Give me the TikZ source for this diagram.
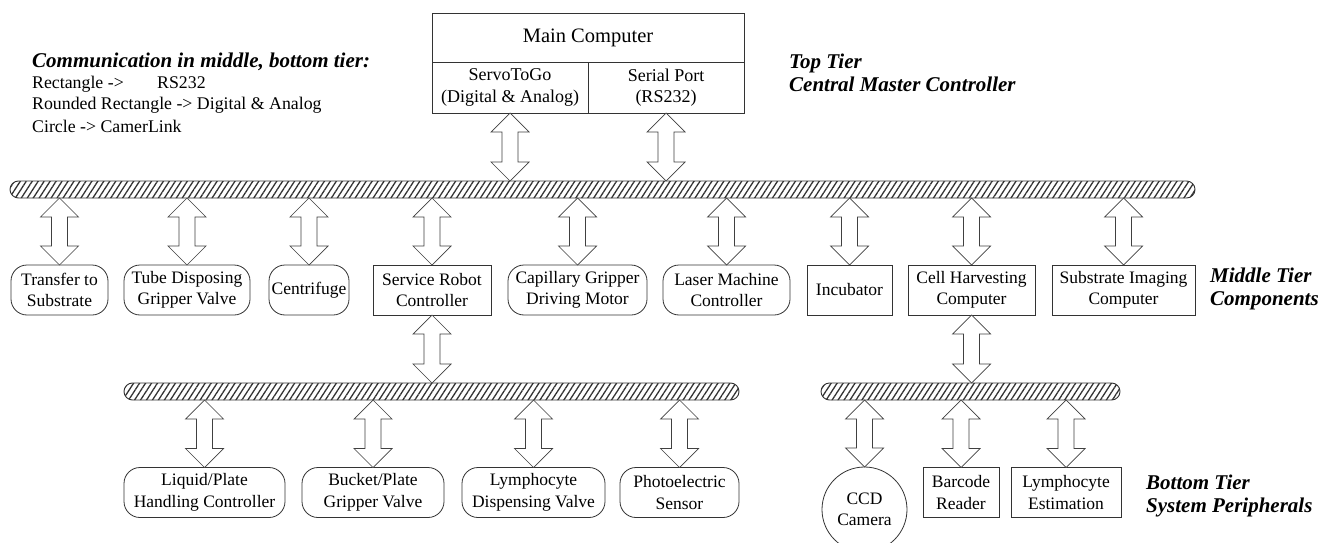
\documentclass[tikz,border=0pt]{standalone}
\usepackage{fontspec}
\setmainfont{Liberation Serif}
\usetikzlibrary{calc,patterns.meta}
\tikzset{
  base/.style={draw=black!80, line width=0.8pt, inner sep=0pt, outer sep=0pt,
    minimum height=50pt, align=center, font=\fontsize{17.5}{21.5}\selectfont},
  sqbox/.style={base},
  rbox/.style={base, rounded corners=16pt},
  ccirc/.style={base, circle},
  bus/.style={draw=black!80, line width=0.9pt, inner sep=0pt, outer sep=0pt,
    minimum height=17pt, rounded corners=8.5pt, pattern color=black!80,
    pattern={Lines[angle=57,distance=5pt,line width=1.3pt]}},
  barrow/.style={draw=black!75, line width=0.7pt, fill=white, line join=miter},
  tier/.style={font=\fontsize{21}{22.5}\selectfont\bfseries\itshape,
    align=left, anchor=west, inner sep=0pt},
  legend/.style={font=\fontsize{17.8}{21.5}\selectfont, anchor=west, inner sep=0pt},
}
\newcommand\dblarrow[2]{%
  \path (#1) coordinate (dbA) (#2) coordinate (dbB);
  \draw[barrow] let \p1=(dbA), \p2=(dbB) in
    (\x1,\y1) -- ({\x1+19pt},{\y1-19pt}) -- ({\x1+8pt},{\y1-19pt})
    -- ({\x1+8pt},{\y2+19pt}) -- ({\x1+19pt},{\y2+19pt}) -- (\x1,\y2)
    -- ({\x1-19pt},{\y2+19pt}) -- ({\x1-8pt},{\y2+19pt})
    -- ({\x1-8pt},{\y1-19pt}) -- ({\x1-19pt},{\y1-19pt}) -- cycle;}
\begin{document}
\begin{tikzpicture}[x=1pt,y=-1pt]
\clip (0,0) rectangle (1328,543);
\fill[white] (0,0) rectangle (1328,543);

% legend
\node[tier] (legt) at (32,62) {Communication in middle, bottom tier:};
\node[legend] (leg1) at (32,84) {\makebox[125pt][l]{Rectangle ->}RS232};
\node[legend] (leg2) at (32,105) {Rounded Rectangle -> Digital \& Analog};
\node[legend] (leg3) at (32,126) {Circle -> CamerLink};

% tier labels
\node[tier] (ttop) at (789,73) {Top Tier\\Central Master Controller};
\node[tier] (tmid) at (1210,289) {Middle Tier\\Components};
\node[tier] (tbot) at (1146,496) {Bottom Tier\\System Peripherals};

% main computer
\node[sqbox, minimum width=312pt, minimum height=49pt,
  font=\fontsize{20.5}{24}\selectfont] (mainc) at (588,37.5) {Main Computer};
\node[sqbox, minimum width=156pt, minimum height=51pt,
  font=\fontsize{18}{21.5}\selectfont] (servo) at (510,87.5) {ServoToGo\\(Digital \& Analog)};
\node[sqbox, minimum width=156pt, minimum height=51pt,
  font=\fontsize{18}{21.5}\selectfont] (serial) at (666,87.5) {Serial Port\\(RS232)};

% buses
\node[bus, minimum width=1185pt] (bus1) at (602.5,189.5) {};
\node[bus, minimum width=615pt] (busA) at (431.5,391.5) {};
\node[bus, minimum width=299pt] (busB) at (970.5,391.5) {};

% middle tier
\node[rbox, minimum width=97pt] (trans) at (59.5,290) {Transfer to\\Substrate};
\node[rbox, minimum width=126pt] (tube) at (187,290) {Tube Disposing\\Gripper Valve};
\node[rbox, minimum width=80pt] (cent) at (309,290) {Centrifuge};
\node[sqbox, minimum width=118pt] (srobot) at (432,290) {Service Robot\\Controller};
\node[rbox, minimum width=139pt] (capil) at (577.5,290) {Capillary Gripper\\Driving Motor};
\node[rbox, minimum width=127pt] (laser) at (726.5,290) {Laser Machine\\Controller};
\node[sqbox, minimum width=85pt] (incub) at (849.5,290) {Incubator};
\node[sqbox, minimum width=127pt] (cellh) at (971.5,290) {Cell Harvesting\\Computer};
\node[sqbox, minimum width=143pt] (subim) at (1123.5,290) {Substrate Imaging\\Computer};

% bottom tier
\node[rbox, minimum width=161pt] (liq) at (204.5,492.5) {Liquid/Plate\\Handling Controller};
\node[rbox, minimum width=142pt] (buck) at (373,492.5) {Bucket/Plate\\Gripper Valve};
\node[rbox, minimum width=143pt] (lymd) at (533.5,492.5) {Lymphocyte\\Dispensing Valve};
\node[rbox, minimum width=119pt] (photo) at (679.5,492.5) {Photoelectric\\Sensor};
\node[ccirc, minimum size=85pt] (ccd) at (864.5,509.5) {CCD\\Camera};
\node[sqbox, minimum width=76pt] (barc) at (961,492.5) {Barcode\\Reader};
\node[sqbox, minimum width=110pt] (lyme) at (1066,492.5) {Lymphocyte\\Estimation};

% arrows: top
\dblarrow{servo.south}{servo.south |- bus1.north}
\dblarrow{serial.south}{serial.south |- bus1.north}
% arrows: middle
\foreach \nd in {trans,tube,cent,srobot,capil,laser,incub,cellh,subim}{
  \dblarrow{\nd.north |- bus1.south}{\nd.north}
}
\dblarrow{srobot.south}{srobot.south |- busA.north}
\dblarrow{cellh.south}{cellh.south |- busB.north}
% arrows: bottom
\foreach \nd in {liq,buck,lymd,photo}{
  \dblarrow{\nd.north |- busA.south}{\nd.north}
}
\foreach \nd in {ccd,barc,lyme}{
  \dblarrow{\nd.north |- busB.south}{\nd.north}
}
\end{tikzpicture}
\end{document}
